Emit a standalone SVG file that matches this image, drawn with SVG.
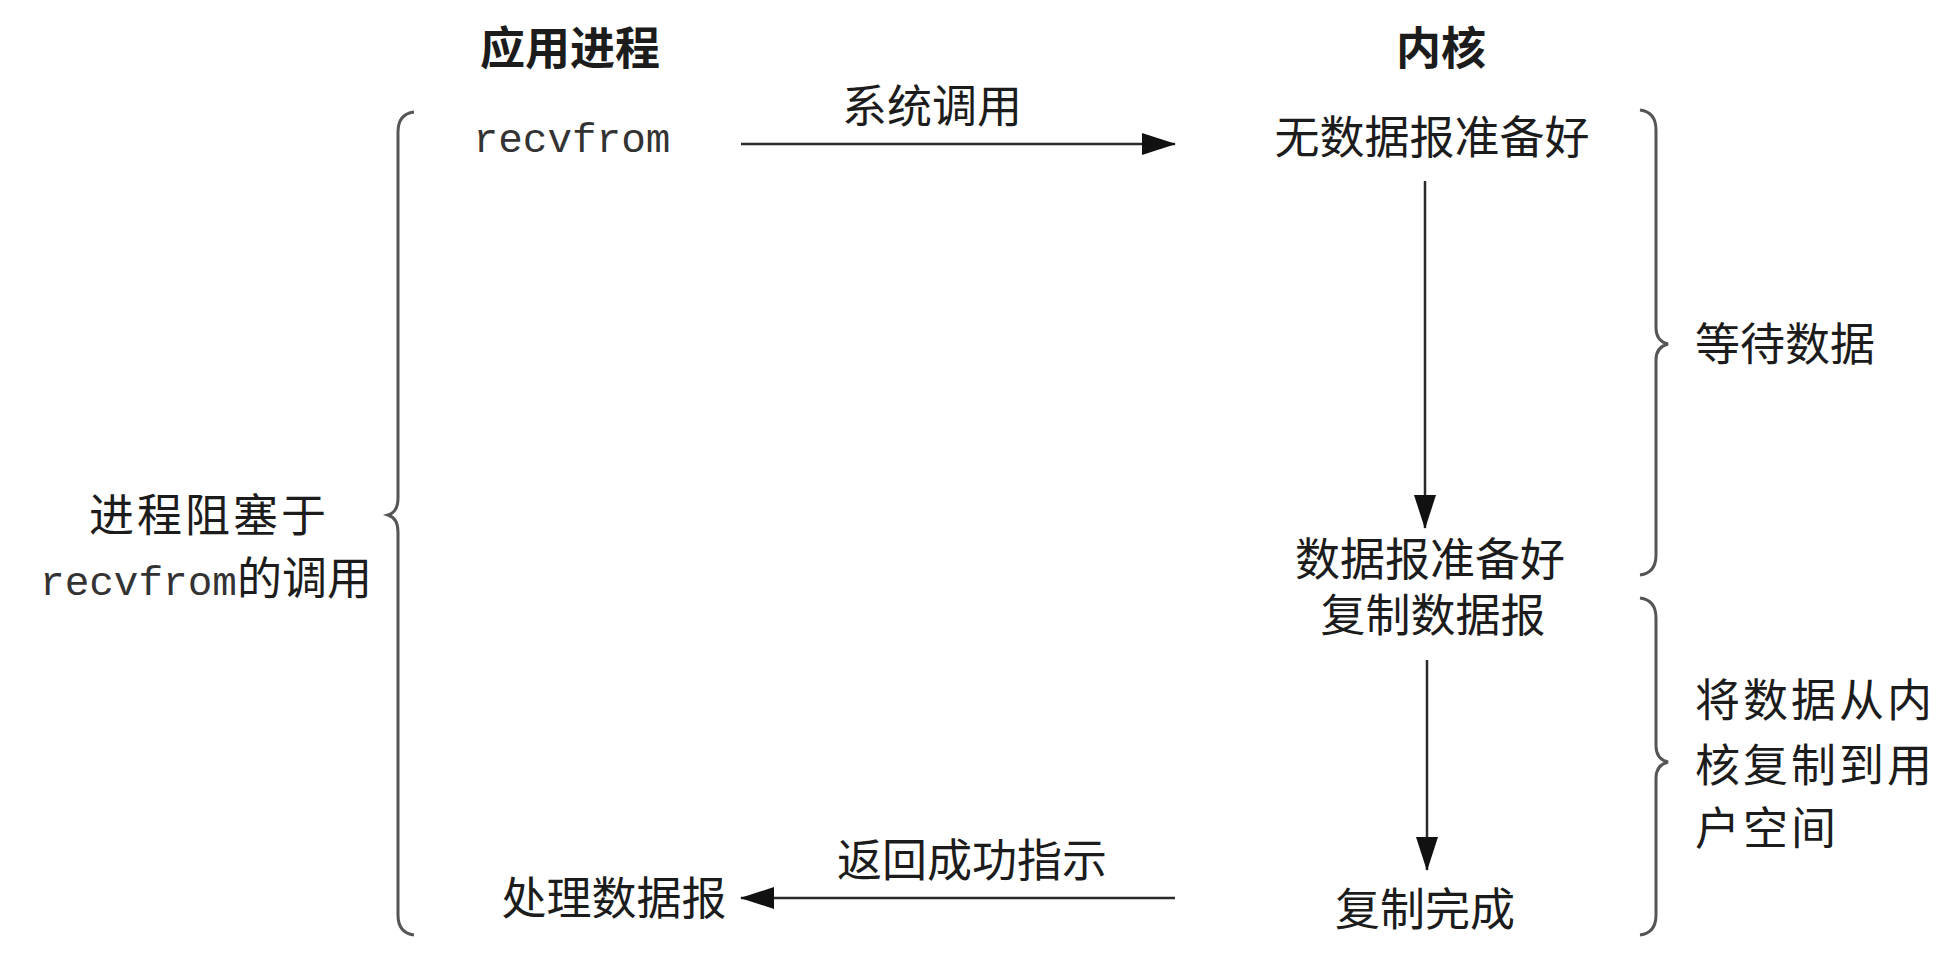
<svg xmlns="http://www.w3.org/2000/svg" width="1960" height="954" viewBox="0 0 1960 954">
<style>
.cjk{font-family:"Noto Sans CJK SC","Noto Sans",sans-serif;font-size:45px;fill:#1c1c1c}
.title{font-weight:bold}
.mono{font-family:"Liberation Mono","DejaVu Sans Mono",monospace;font-size:41px;fill:#333}
.line{stroke:#2a2a2a;stroke-width:2.5;fill:none}
.brace{stroke:#555;stroke-width:3;fill:none}
</style>
<defs>
<marker id="ah" markerUnits="userSpaceOnUse" markerWidth="34" markerHeight="22" viewBox="0 0 34 22" refX="33" refY="11" orient="auto">
<path d="M0,0 L34,11 L0,22 Z" fill="#111"/>
</marker>
</defs>
<rect width="1960" height="954" fill="#fff"/>

<g id="title-app"><text class="cjk title" x="570" y="65" text-anchor="middle">应用进程</text></g>
<g id="title-kernel"><text class="cjk title" x="1441" y="65" text-anchor="middle">内核</text></g>

<g id="recvfrom"><text class="mono" x="572" y="152" text-anchor="middle">recvfrom</text></g>
<g id="no-data"><text class="cjk" x="1432" y="154" text-anchor="middle">无数据报准备好</text></g>
<g id="data-ready"><text class="cjk" text-anchor="middle"><tspan x="1430" y="576">数据报准备好</tspan><tspan x="1433" y="632">复制数据报</tspan></text></g>
<g id="copy-done"><text class="cjk" x="1425" y="926" text-anchor="middle">复制完成</text></g>
<g id="process"><text class="cjk" x="614" y="915" text-anchor="middle">处理数据报</text></g>

<g id="connectors">
<line class="line" x1="741" y1="144" x2="1175" y2="144" marker-end="url(#ah)"/>
<text class="cjk" x="932" y="123" text-anchor="middle">系统调用</text>
<line class="line" x1="1425" y1="181" x2="1425" y2="528" marker-end="url(#ah)"/>
<line class="line" x1="1427" y1="660" x2="1427" y2="870" marker-end="url(#ah)"/>
<line class="line" x1="1175" y1="898" x2="741" y2="898" marker-end="url(#ah)"/>
<text class="cjk" x="972" y="877" text-anchor="middle">返回成功指示</text>
</g>

<g id="brace-left">
<path class="brace" d="M414 112 Q398 114 398 132 L398 498 Q398 512 388 515 Q398 518 398 532 L398 915 Q398 933 414 935"/>
<text class="cjk" x="209" y="532" text-anchor="middle" letter-spacing="3">进程阻塞于</text>
<text x="206" y="595" text-anchor="middle"><tspan class="mono">recvfrom</tspan><tspan class="cjk">的调用</tspan></text>
</g>
<g id="brace-wait">
<path class="brace" d="M1640 110 Q1656 112 1656 130 L1656 328 Q1656 341 1668 344 Q1656 347 1656 360 L1656 555 Q1656 573 1640 575"/>
<text class="cjk" x="1785" y="361" text-anchor="middle">等待数据</text>
</g>
<g id="brace-copy">
<path class="brace" d="M1640 598 Q1656 600 1656 618 L1656 746 Q1656 759 1668 762 Q1656 765 1656 778 L1656 915 Q1656 933 1640 935"/>
<text class="cjk" letter-spacing="3"><tspan x="1695" y="717">将数据从内</tspan><tspan x="1695" y="782">核复制到用</tspan><tspan x="1695" y="845">户空间</tspan></text>
</g>
</svg>
